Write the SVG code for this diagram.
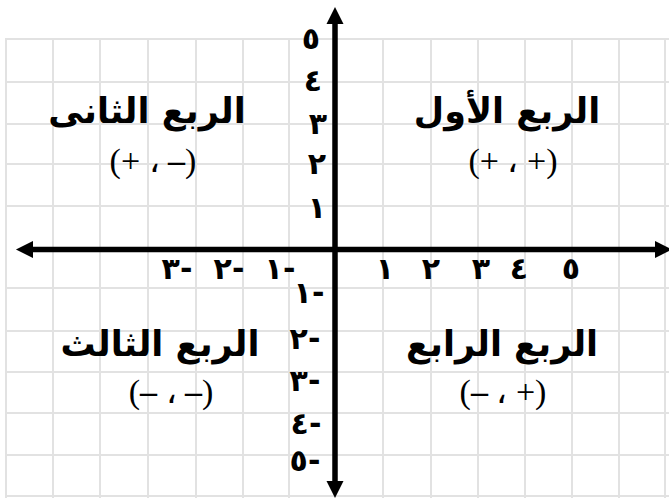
<svg xmlns="http://www.w3.org/2000/svg" width="669" height="498" viewBox="0 0 669 498">
<style>
.grid line{stroke:#e2e2e2;stroke-width:2}
.axis{stroke:#000;stroke-width:5.5}
.num{font-family:"DejaVu Sans",sans-serif;font-weight:bold;font-size:30px;fill:#000}
.title{font-family:"DejaVu Sans",sans-serif;font-weight:bold;font-size:35px;fill:#000}
.sign{font-family:"Liberation Serif","DejaVu Serif",serif;font-size:34px;fill:#000}
.dash{font-weight:bold}
</style>
<defs>
<marker id="ah" viewBox="0 0 10 10" refX="0" refY="5" markerWidth="3.3" markerHeight="3.1" orient="auto" markerUnits="strokeWidth">
<path d="M0,0 L10,5 L0,10 z" fill="#000"/>
</marker>
</defs>
<rect width="669" height="498" fill="#fff"/>
<g class="grid" id="grid">
<line x1="6" y1="38" x2="6" y2="498"/>
<line x1="53" y1="38" x2="53" y2="498"/>
<line x1="100" y1="38" x2="100" y2="498"/>
<line x1="148" y1="38" x2="148" y2="498"/>
<line x1="196" y1="38" x2="196" y2="498"/>
<line x1="243" y1="38" x2="243" y2="498"/>
<line x1="289" y1="38" x2="289" y2="498"/>
<line x1="383" y1="38" x2="383" y2="498"/>
<line x1="431" y1="38" x2="431" y2="498"/>
<line x1="478" y1="38" x2="478" y2="498"/>
<line x1="525" y1="38" x2="525" y2="498"/>
<line x1="572" y1="38" x2="572" y2="498"/>
<line x1="619" y1="38" x2="619" y2="498"/>
<line x1="665" y1="38" x2="665" y2="498"/>
<line x1="6" y1="39" x2="669" y2="39"/>
<line x1="6" y1="82" x2="669" y2="82"/>
<line x1="6" y1="124" x2="669" y2="124"/>
<line x1="6" y1="164" x2="669" y2="164"/>
<line x1="6" y1="206" x2="669" y2="206"/>
<line x1="6" y1="288" x2="669" y2="288"/>
<line x1="6" y1="331" x2="669" y2="331"/>
<line x1="6" y1="372" x2="669" y2="372"/>
<line x1="6" y1="413" x2="669" y2="413"/>
<line x1="6" y1="455" x2="669" y2="455"/>
<line x1="6" y1="496" x2="669" y2="496"/>
</g>
<g id="connectors">
<line class="axis" x1="335" y1="249.5" x2="335" y2="24" marker-end="url(#ah)"/>
<line class="axis" x1="335" y1="249.5" x2="335" y2="481" marker-end="url(#ah)"/>
<line class="axis" x1="335" y1="249.5" x2="655" y2="249.5" marker-end="url(#ah)"/>
<line class="axis" x1="335" y1="249.5" x2="33" y2="249.5" marker-end="url(#ah)"/>
</g>
<g id="y-labels" class="num" text-anchor="middle">
<text x="311" y="49">٥</text>
<text x="313" y="91">٤</text>
<text x="318" y="134">٣</text>
<text x="317" y="174">٢</text>
<text x="317" y="218">١</text>
<text x="309" y="303" direction="ltr" unicode-bidi="bidi-override">١-</text>
<text x="305" y="349" direction="ltr" unicode-bidi="bidi-override">٢-</text>
<text x="305" y="391" direction="ltr" unicode-bidi="bidi-override">٣-</text>
<text x="306" y="434" direction="ltr" unicode-bidi="bidi-override">٤-</text>
<text x="305" y="471" direction="ltr" unicode-bidi="bidi-override">٥-</text>
</g>
<g id="x-labels" class="num" text-anchor="middle">
<text x="385" y="279">١</text>
<text x="431" y="279">٢</text>
<text x="481" y="279">٣</text>
<text x="519" y="279">٤</text>
<text x="571" y="279">٥</text>
<text x="177" y="279" direction="ltr" unicode-bidi="bidi-override">٣-</text>
<text x="229" y="279" direction="ltr" unicode-bidi="bidi-override">٢-</text>
<text x="280" y="279" direction="ltr" unicode-bidi="bidi-override">١-</text>
</g>
<g id="q1">
<text class="title" x="507" y="123" text-anchor="middle" direction="rtl">الربع الأول</text>
<text class="sign" x="513" y="172" text-anchor="middle" direction="ltr" unicode-bidi="bidi-override">(+ ، +)</text>
</g>
<g id="q2">
<text class="title" x="147" y="123" text-anchor="middle" direction="rtl">الربع الثانى</text>
<text class="sign" x="153" y="172" text-anchor="middle" direction="ltr" unicode-bidi="bidi-override">(+ ، <tspan class="dash">–</tspan>)</text>
</g>
<g id="q3">
<text class="title" x="160" y="356" text-anchor="middle" direction="rtl">الربع الثالث</text>
<text class="sign" x="171" y="403" text-anchor="middle" direction="ltr" unicode-bidi="bidi-override">(<tspan class="dash">–</tspan> ، <tspan class="dash">–</tspan>)</text>
</g>
<g id="q4">
<text class="title" x="502" y="356" text-anchor="middle" direction="rtl">الربع الرابع</text>
<text class="sign" x="503" y="403" text-anchor="middle" direction="ltr" unicode-bidi="bidi-override">(<tspan class="dash">–</tspan> ، +)</text>
</g>
</svg>
